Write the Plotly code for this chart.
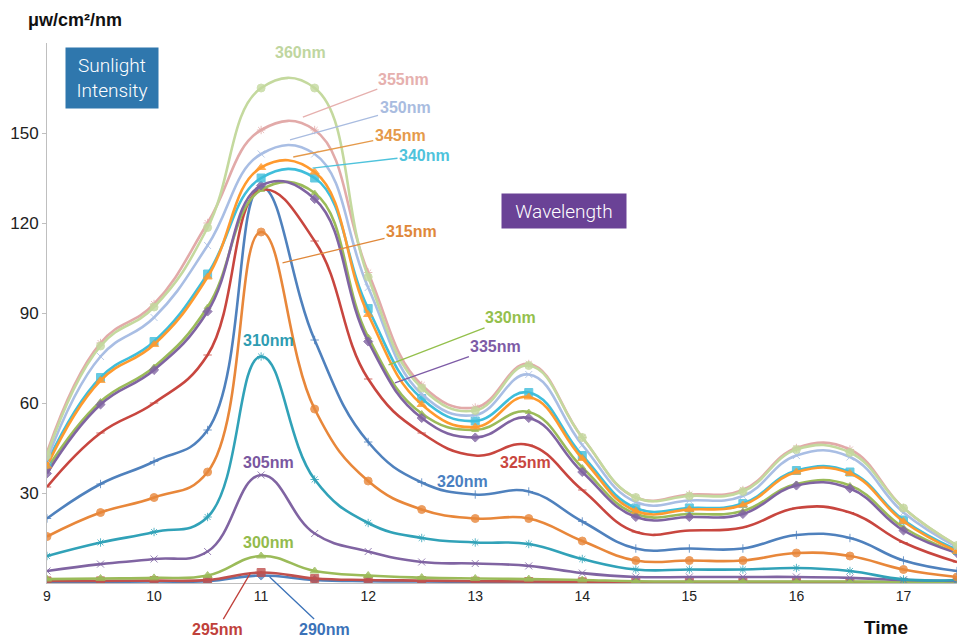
import plotly.graph_objects as go

times = [9, 9.5, 10, 10.5, 11, 11.5, 12, 12.5, 13, 13.5, 14, 14.5, 15, 15.5, 16, 16.5, 17, 17.5]

nm290 = [0.4, 0.4, 0.5, 0.6, 2.5, 1, 0.6, 0.5, 0.4, 0.3, 0.3, 0.2, 0.2, 0.2, 0.2, 0.2, 0.1, 0.1]
nm295 = [0.7, 0.7, 0.8, 1, 3.5, 1.5, 1, 0.8, 0.6, 0.5, 0.4, 0.3, 0.3, 0.3, 0.3, 0.3, 0.2, 0.2]
nm300 = [1.3, 1.5, 1.7, 2.5, 9, 4, 2.5, 1.8, 1.5, 1.3, 1, 0.6, 0.5, 0.5, 0.5, 0.5, 0.4, 0.3]
nm305 = [4, 6.3, 8, 10.5, 36, 16.5, 10.5, 7, 6.5, 5.7, 3.3, 2, 2, 2, 2, 1.7, 1, 0.7]
nm310 = [9, 13.5, 17, 22, 75.5, 34.5, 20, 15, 13.5, 13, 8, 4.5, 4.5, 4.5, 5, 4, 1.2, 1]
nm315 = [15.5, 23.5, 28.5, 37, 117, 58, 34, 24.5, 21.5, 21.5, 14, 7.5, 7.5, 7.5, 10, 9, 4.5, 2]
nm320 = [21.5, 33, 40.5, 51, 132, 81, 47, 33.5, 29.5, 30.5, 20.5, 11.5, 11.5, 11.5, 16, 15, 7.5, 4]
nm325 = [32, 50, 60, 76, 131, 114, 68, 50, 42.5, 46, 31, 17, 17.5, 18.5, 25, 23.5, 13.5, 7]
nm330 = [38, 60.5, 72, 92, 131, 130, 82, 56.5, 51, 57, 38.5, 23, 23, 24, 33, 32.5, 18.5, 10]
nm335 = [36.5, 59.5, 71, 90.5, 132.5, 128, 80.5, 55, 48.5, 55, 37, 22, 22, 23, 32.5, 31.5, 17.5, 10]
nm340 = [40, 68.5, 80.5, 103, 135, 135, 91.5, 61.5, 54, 63.5, 42.5, 25, 25, 26.5, 37.5, 37, 21, 11]
nm345 = [39, 67.5, 79.5, 102, 138.5, 137, 89.5, 59.5, 52, 62, 41.5, 24, 24.5, 26, 37, 36.5, 20.5, 10.5]
nm350 = [41, 75.5, 88.5, 112.5, 143, 143, 98.5, 63, 56, 69.5, 46, 27, 27.5, 29, 42.5, 42, 23.5, 12]
nm355 = [43.5, 80, 93, 120, 151, 151, 103.5, 66, 58.5, 73, 48.5, 28.5, 29.5, 31, 45, 44.5, 25, 12.5]
nm360 = [42.5, 79, 92, 118.5, 165, 165, 102, 65, 57.5, 72.5, 48.5, 28.5, 29, 30.5, 44.5, 43.5, 25, 12.5]

names = ["290nm", "295nm", "300nm", "305nm", "310nm", "315nm", "320nm", "325nm",
         "330nm", "335nm", "340nm", "345nm", "350nm", "355nm", "360nm"]
values = [nm290, nm295, nm300, nm305, nm310, nm315, nm320, nm325,
          nm330, nm335, nm340, nm345, nm350, nm355, nm360]
line_colors = ["#4F81BD", "#C0504D", "#9BBB59", "#8064A2", "#31A2B8", "#E8873A", "#4F81BD", "#C8463F",
               "#9BBB59", "#8064A2", "#3FBEDB", "#FF9A2E", "#A9BEE4", "#E2AAA9", "#C4D99E"]
symbols = ["diamond", "square", "triangle-up", "x-thin-open", "asterisk-open", "circle", "cross-thin-open", "line-ew-open",
           "triangle-up", "diamond", "square", "triangle-up", "x-thin-open", "asterisk-open", "circle"]
sizes = [7, 8, 8, 7, 7, 8, 6, 6, 6, 7, 8, 8, 7, 7, 8]

FONT = "Liberation Sans"

fig = go.Figure()
for name, vals, col, sym, sz in zip(names, values, line_colors, symbols, sizes):
    fig.add_trace(go.Scatter(
        x=times, y=vals, name=name, mode="lines+markers",
        line=dict(color=col, width=2.6, shape="spline", smoothing=1.25),
        marker=dict(symbol=sym, size=sz, color=col, opacity=0.8,
                    line=dict(color=col, width=1.0)),
        showlegend=False,
    ))

# plot area spans page pixels x 47..957, y 43..583
def px_to_paper(px, py):
    return (px - 47) / 910.0, (583 - py) / 540.0

annotations = []
plain_labels = [
    ("360nm", "#BFD6A0", 300, 52),
    ("310nm", "#2E9CB2", 268, 340),
    ("305nm", "#7A57A0", 268, 462),
    ("300nm", "#93BB4C", 268, 542),
    ("325nm", "#C9473F", 525, 462),
    ("320nm", "#4A7FC1", 462, 481),
]
for txt, col, px, py in plain_labels:
    xp, yp = px_to_paper(px, py)
    annotations.append(dict(x=xp, y=yp, xref="paper", yref="paper", text="<b>%s</b>" % txt,
                            showarrow=False, font=dict(family=FONT, size=16, color=col),
                            xanchor="center", yanchor="middle"))

leader_labels = [
    ("355nm", "#E6B0AE", 11.39, 155.3, 101, -38),
    ("350nm", "#A9BCE0", 11.27, 147.7, 115, -32),
    ("345nm", "#E59A4B", 11.30, 142.0, 107, -22),
    ("340nm", "#4FC3DC", 11.48, 138.3, 112, -13),
    ("315nm", "#E0883A", 11.20, 106.7, 129, -31),
    ("330nm", "#94C04C", 12.19, 72.7, 122, -47),
    ("335nm", "#7D5BA6", 12.25, 66.7, 101, -36),
    ("295nm", "#C0413B", 10.90, 3.3, -33, 56),
    ("290nm", "#3B72B8", 11.08, 2.0, 55, 52),
]
for txt, col, x, y, ax, ay in leader_labels:
    annotations.append(dict(x=x, y=y, xref="x", yref="y", text="<b>%s</b>" % txt,
                            showarrow=True, arrowhead=0, arrowwidth=1.3, arrowcolor=col,
                            ax=ax, ay=ay, standoff=0,
                            font=dict(family=FONT, size=16, color=col)))

xp, yp = px_to_paper(112, 78)
annotations.append(dict(x=xp, y=yp, xref="paper", yref="paper", text="Sunlight<br>Intensity",
                        showarrow=False, bgcolor="#2F77AD", borderpad=0, width=92, height=60,
                        font=dict(family="Roboto", size=19, color="white", weight=300),
                        xanchor="center", yanchor="middle", align="center"))
xp, yp = px_to_paper(564, 211)
annotations.append(dict(x=xp, y=yp, xref="paper", yref="paper", text="Wavelength",
                        showarrow=False, bgcolor="#6A4296", borderpad=0, width=124, height=34,
                        font=dict(family="Roboto", size=19, color="white", weight=300),
                        xanchor="center", yanchor="middle", align="center"))

xp, yp = px_to_paper(26, 20)
annotations.append(dict(x=xp, y=yp, xref="paper", yref="paper", text="<b>μw/cm²/nm</b>",
                        showarrow=False, font=dict(family=FONT, size=18, color="#111"),
                        xanchor="left", yanchor="middle"))
xp, yp = px_to_paper(886, 627)
annotations.append(dict(x=xp, y=yp, xref="paper", yref="paper", text="<b>Time</b>",
                        showarrow=False, font=dict(family=FONT, size=19, color="#111"),
                        xanchor="center", yanchor="middle"))

# The page has an 8px body margin, so the figure is 8px smaller and margins shifted by 8px.
fig.update_layout(
    template="none",
    width=957, height=632,
    margin=dict(l=39, r=8, t=35, b=57, autoexpand=False),
    paper_bgcolor="white", plot_bgcolor="white",
    font=dict(family=FONT, color="#222"),
    annotations=annotations,
    xaxis=dict(range=[9, 17.5], tickmode="array", tickvals=list(range(9, 18)),
               showgrid=False, zeroline=False, showline=True, linecolor="#BFBFBF", linewidth=1,
               ticks="", tickfont=dict(family=FONT, size=14, color="#222")),
    yaxis=dict(range=[0, 180], tickmode="array", tickvals=[30, 60, 90, 120, 150],
               showgrid=False, zeroline=False, showline=True, linecolor="#BFBFBF", linewidth=1,
               ticks="outside", ticklen=4, tickcolor="#BFBFBF",
               tickfont=dict(family=FONT, size=17, color="#222")),
)

fig.write_html("out.html")
